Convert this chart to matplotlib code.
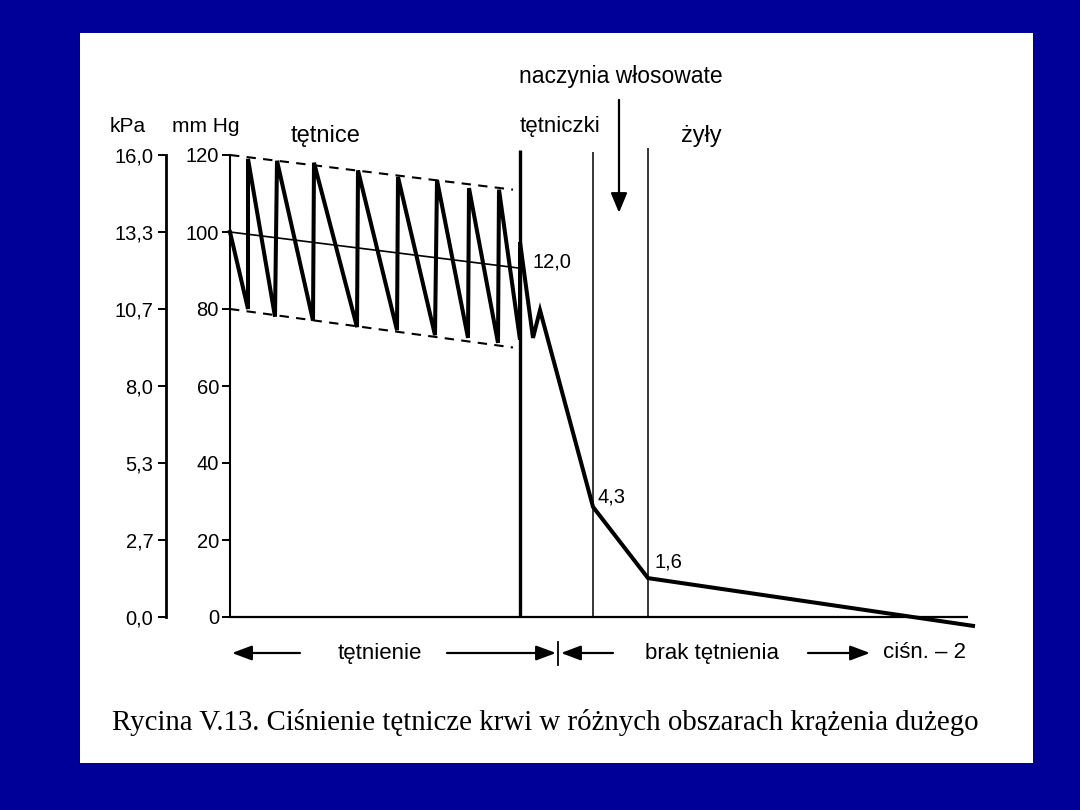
import matplotlib
matplotlib.use("Agg")
import matplotlib.pyplot as plt
from matplotlib.patches import Rectangle

# ---------------- data (x: position along circulation, arbitrary units; y: mm Hg)
pressure_x = [0, 18, 18, 45, 47, 83, 84, 127, 128, 167, 168, 205, 207, 238, 239,
              268, 269, 290, 290, 303, 310, 363, 418, 743]
pressure_y = [100, 80, 119, 78, 118.5, 77, 118, 75.3, 116, 74.5, 114.3, 73.2, 113.5,
              72.5, 111.4, 71.2, 111, 72, 97.4, 72.5, 79.7, 28.6, 10.1, -2.3]
mean_x = [0, 290]
mean_y = [100, 90.6]
upper_env_x = [0, 283]
upper_env_y = [120, 111]
lower_env_x = [0, 283]
lower_env_y = [80, 70]
boundary_x = [290, 363, 418]
boundary_top = [121.3, 120.8, 121.8]
boundary_lw = [2.4, 1.1, 1.1]
baseline_x = [0, 738]
mmhg_ticks = [0, 20, 40, 60, 80, 100, 120]
kpa_labels = ["0,0", "2,7", "5,3", "8,0", "10,7", "13,3", "16,0"]
point_labels = ["12,0", "4,3", "1,6"]

BLUE = "#000099"
SANS = ["Liberation Sans", "DejaVu Sans"]
SERIF = ["Liberation Serif", "DejaVu Serif"]

W, H = 1080, 810
fig = plt.figure(figsize=(W / 100, H / 100), dpi=100, facecolor=BLUE)
fig.patches.append(Rectangle((80 / W, 1 - 763 / H), 953 / W, 730 / H,
                             transform=fig.transFigure, facecolor="white",
                             edgecolor="none", zorder=-10))

# axes box in pixels: left 230, right 1000, top 140, bottom 680 ; 0 mmHg at y=617
px_per = 3.85
ax = fig.add_axes([230 / W, 1 - 680 / H, 770 / W, 540 / H])
ax.set_facecolor("none")
ax.set_xlim(0, 770)
ax.set_ylim((617 - 680) / px_per, (617 - 140) / px_per)

for s in ["top", "right", "bottom"]:
    ax.spines[s].set_visible(False)
ax.spines["left"].set_bounds(0, 120)
ax.spines["left"].set_linewidth(1.5)
ax.set_xticks([])
ax.set_yticks(mmhg_ticks, labels=[str(t) for t in mmhg_ticks])
ax.tick_params(axis="y", direction="out", length=6, width=1.4, pad=2,
               labelsize=14.5)
for t in ax.get_yticklabels():
    t.set_fontfamily(SANS)

sec = ax.secondary_yaxis((166 - 230) / 770, functions=(lambda v: v, lambda v: v))
sec.set_yticks(mmhg_ticks, labels=kpa_labels)
sec.spines["left"].set_bounds(0, 120)
sec.spines["left"].set_linewidth(2)
sec.tick_params(axis="y", direction="out", length=6, width=1.4, pad=3,
                labelsize=14.5)
for t in sec.get_yticklabels():
    t.set_fontfamily(SANS)

# baseline
ax.plot(baseline_x, [0, 0], color="black", lw=1.6, solid_capstyle="butt")
# envelopes
ax.plot(upper_env_x, upper_env_y, color="black", lw=1.5, linestyle=(0, (4.5, 3.5)))
ax.plot(lower_env_x, lower_env_y, color="black", lw=1.5, linestyle=(0, (4.5, 3.5)))
# mean line
ax.plot(mean_x, mean_y, color="black", lw=1.2)
# pressure curve
ax.plot(pressure_x, pressure_y, color="black", lw=2.9, solid_joinstyle="miter",
        clip_on=False)
# vertical boundaries
for bx, top, lw in zip(boundary_x, boundary_top, boundary_lw):
    ax.plot([bx, bx], [0, top], color="black", lw=lw, solid_capstyle="butt",
            clip_on=False)

# capillary arrow
ax.annotate("", xy=(389, 105.0), xytext=(389, 134.3), annotation_clip=False,
            arrowprops=dict(arrowstyle="-|>,head_length=1.2,head_width=0.5",
                            color="black", lw=1.6, shrinkA=0, shrinkB=0))

def txt(x, y, s, size=16, ha="center", va="center", **kw):
    ax.text(x, y, s, fontsize=size, ha=ha, va=va, family=SANS, color="black",
            clip_on=False, **kw)

txt(-102, 127.5, "kPa", 15)
txt(-24, 127.5, "mm Hg", 15)
txt(96, 125.0, "tętnice", 17)
txt(330, 127.5, "tętniczki", 16)
txt(471, 125.0, "żyły", 17)
txt(391, 140.5, "naczynia włosowate", 16.5)
txt(302, 92.2, point_labels[0], 14.5, ha="left")
txt(368, 31.2, point_labels[1], 14.5, ha="left")
txt(425, 14.3, point_labels[2], 14.5, ha="left")

# bottom row
yb = (617 - 653) / px_per
txt(150, yb, "tętnienie", 16)
txt(482, yb, "brak tętnienia", 16)
txt(653, yb, "ciśn. – 2", 16, ha="left")
arrow = dict(arrowstyle="-|>,head_length=1.2,head_width=0.45", color="black",
             lw=1.6, shrinkA=0, shrinkB=0)
ax.annotate("", xy=(2, yb), xytext=(70, yb), arrowprops=arrow, annotation_clip=False)
ax.annotate("", xy=(326, yb), xytext=(217, yb), arrowprops=arrow, annotation_clip=False)
ax.annotate("", xy=(331, yb), xytext=(383, yb), arrowprops=arrow, annotation_clip=False)
ax.annotate("", xy=(640, yb), xytext=(578, yb), arrowprops=arrow, annotation_clip=False)
ax.plot([328, 328], [(617 - 642) / px_per, (617 - 665) / px_per], color="black",
        lw=1.3, clip_on=False)

fig.text(545 / W, 1 - 722 / H,
         "Rycina V.13. Ciśnienie tętnicze krwi w różnych obszarach krążenia dużego",
         ha="center", va="center", fontsize=20.8, family=SERIF, color="black")

fig.savefig("out.png", dpi=100, facecolor=BLUE)
